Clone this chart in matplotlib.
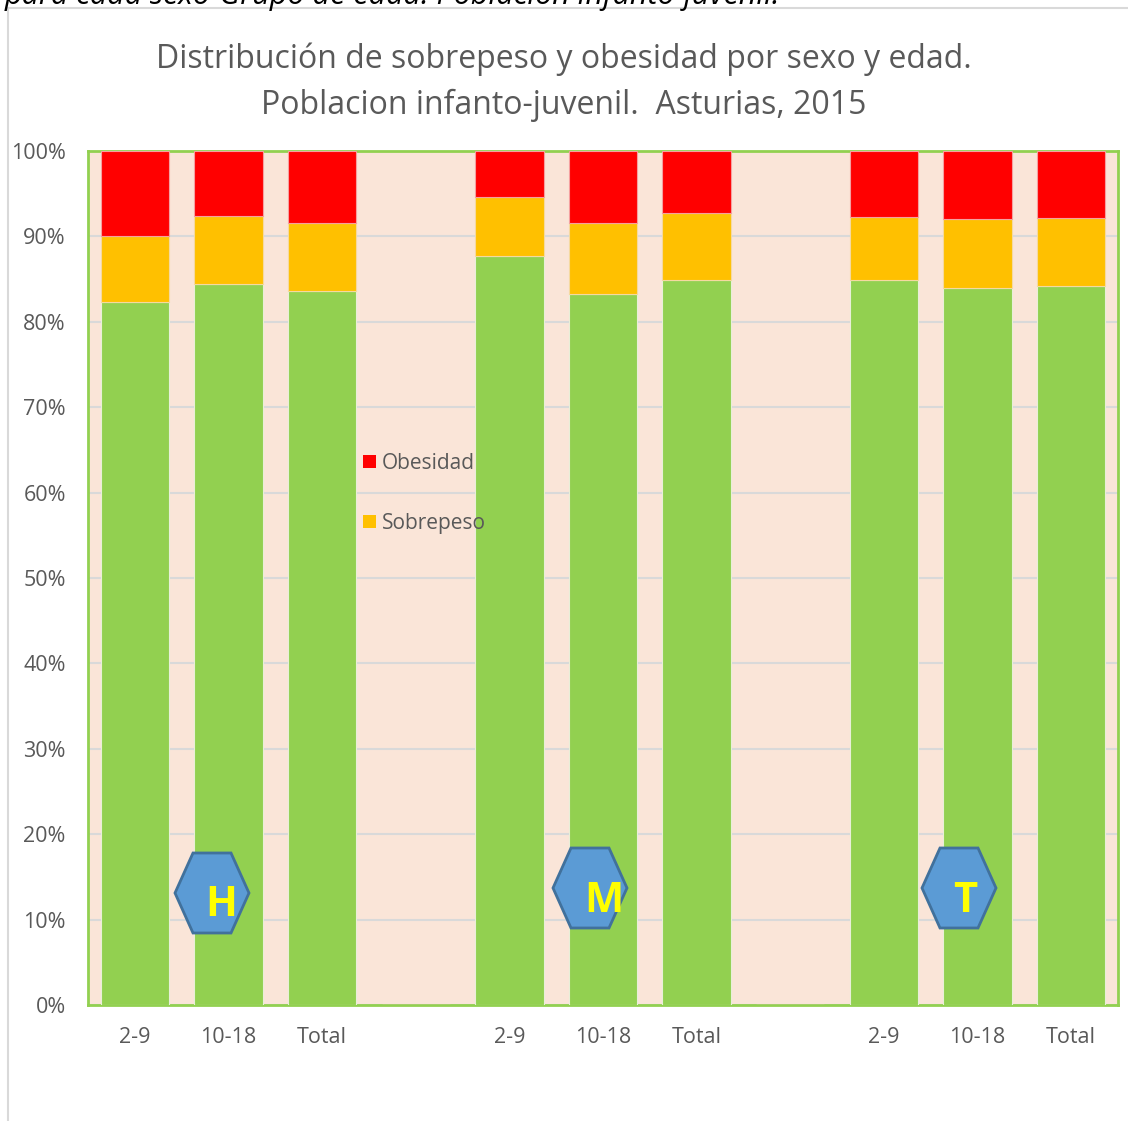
import numpy as np
import matplotlib.pyplot as plt
from matplotlib.patches import Polygon, Patch
from matplotlib.lines import Line2D

plt.rcParams['font.family'] = ['Open Sans', 'DejaVu Sans']

categorias = ['2-9', '10-18', 'Total', '', '2-9', '10-18', 'Total', '', '2-9', '10-18', 'Total']
normopeso = [82.3, 84.4, 83.6, 0, 87.7, 83.2, 84.9, 0, 84.9, 83.9, 84.2]
sobrepeso = [7.7, 8.0, 8.0, 0, 6.9, 8.4, 7.8, 0, 7.4, 8.1, 7.9]
obesidad = [10.0, 7.6, 8.4, 0, 5.4, 8.4, 7.3, 0, 7.7, 8.0, 7.9]
grupos = ['H', 'M', 'T']

verde = '#92D050'
naranja = '#FFC000'
rojo = '#FF0000'
gris_txt = '#595959'

fig = plt.figure(figsize=(11.28, 11.21), dpi=100)
ax = fig.add_axes([88 / 1128, 1 - 1005 / 1121, 1030 / 1128, 854 / 1121])
ax.set_facecolor('#FAE5D8')

x = np.arange(len(categorias))
n = np.array(normopeso)
s = np.array(sobrepeso)
o = np.array(obesidad)
w = 0.73
ax.bar(x, n, w, color=verde, edgecolor='#E8EFD8', linewidth=0.8, zorder=3)
ax.bar(x, s, w, bottom=n, color=naranja, edgecolor='#F5D9A0', linewidth=0.8, zorder=3)
ax.bar(x, o, w, bottom=n + s, color=rojo, edgecolor='#F5A0A0', linewidth=0.8, zorder=3)

ax.set_xlim(-0.5, len(categorias) - 0.5)
ax.set_ylim(0, 100)
ax.set_yticks(np.arange(0, 101, 10))
ax.set_yticklabels([f'{v}%' for v in range(0, 101, 10)])
ax.set_xticks(x)
ax.set_xticklabels(categorias)
ax.tick_params(length=0, labelsize=15.5, colors=gris_txt)
ax.tick_params(axis='x', pad=16)
ax.tick_params(axis='y', pad=16)
ax.grid(axis='y', color='#D9D9D9', linewidth=1.5, zorder=0)
for sp in ax.spines.values():
    sp.set_color(verde)
    sp.set_linewidth(2)

# leyenda (solo obesidad y sobrepeso)
handles = [Patch(facecolor=rojo, label='Obesidad'), Patch(facecolor=naranja, label='Sobrepeso')]
leg = ax.legend(handles=handles, loc='upper left', bbox_to_anchor=(0.253, 0.664),
                frameon=False, fontsize=15, handlelength=0.6, handleheight=0.6,
                handletextpad=0.3, labelspacing=1.9, borderpad=0.2)
for t in leg.get_texts():
    t.set_color(gris_txt)

# titulo
fig.text(0.5, 1 - 82 / 1121, 'Distribución de sobrepeso y obesidad por sexo y edad.\nPoblacion infanto-juvenil.  Asturias, 2015',
         ha='center', va='center', fontsize=23, color=gris_txt, linespacing=1.5)
# texto recortado en el borde superior, como en la imagen original
fig.text(0.004, 1 + 5 / 1121, 'para cada sexo-Grupo de edad. Población infanto-juvenil.',
         ha='left', va='center', fontsize=22, style='italic', color='#000000')

# borde del grafico
fig.add_artist(Line2D([8 / 1128, 8 / 1128], [0, 1 - 8 / 1121], color='#D9D9D9', lw=1.5))
fig.add_artist(Line2D([8 / 1128, 1], [1 - 8 / 1121, 1 - 8 / 1121], color='#D9D9D9', lw=1.5))

# hexagonos con las letras
hex_cx = [212, 590, 959]
hex_cy = [893, 888, 888]
let_dx = [9, 14, 6]
for g, cx, cy, dx in zip(grupos, hex_cx, hex_cy, let_dx):
    pts = [(cx - 37, cy), (cx - 19, cy - 40), (cx + 19, cy - 40),
           (cx + 37, cy), (cx + 19, cy + 40), (cx - 19, cy + 40)]
    pts = [(px / 1128, 1 - py / 1121) for px, py in pts]
    fig.add_artist(Polygon(pts, closed=True, facecolor='#5B9BD5', edgecolor='#41719C',
                           lw=2, transform=fig.transFigure, zorder=5))
    fig.text((cx + dx) / 1128, 1 - (cy + 13) / 1121, g, ha='center', va='center',
             fontsize=30, fontweight='bold', color='#FFFF00', zorder=6)

fig.savefig('out.png', dpi=100)
